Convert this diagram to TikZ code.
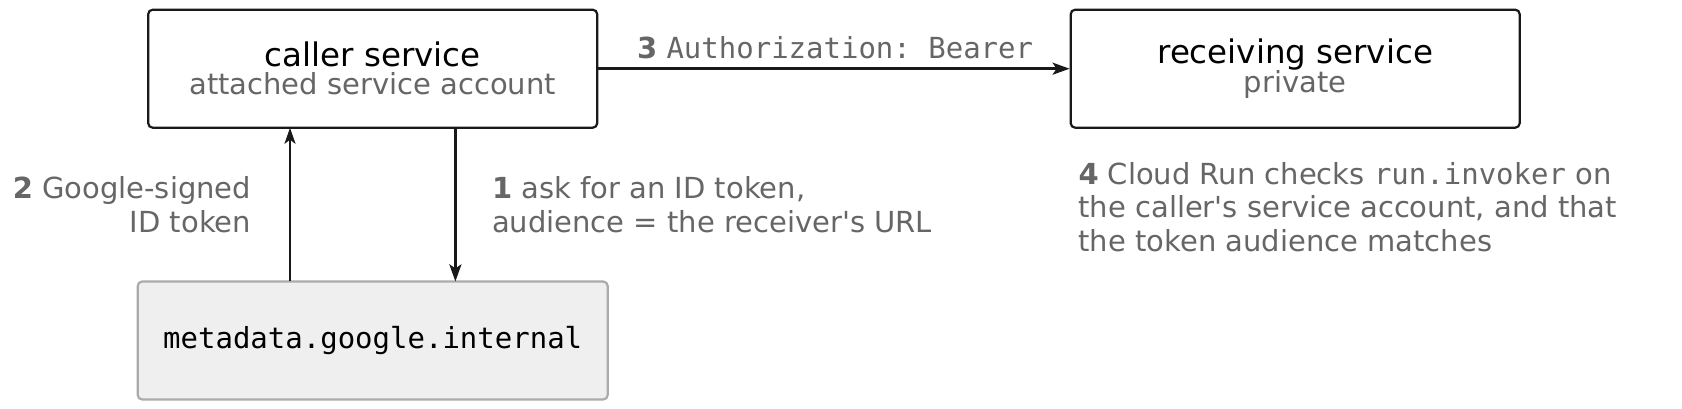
\documentclass[tikz,border=0pt]{standalone}
\usepackage{fontspec}
\setmainfont{DejaVu Sans}
\setmonofont{DejaVu Sans Mono}
\usetikzlibrary{arrows.meta}
\definecolor{labelgray}{HTML}{666666}
\definecolor{boxgray}{HTML}{EFEFEF}
\definecolor{edgegray}{HTML}{ABABAB}
\def\titlefont{\fontsize{32.5}{28}\selectfont}
\def\subfont{\fontsize{29}{28}\selectfont}
\def\labelfont{\fontsize{29}{33.3}\selectfont}

\begin{document}
\begin{tikzpicture}[x=1pt, y=1pt,
    service/.style={draw=black!90, line width=2.2pt, rounded corners=4.5pt,
      minimum width=449pt, minimum height=118pt, align=center, inner sep=0pt, font=\subfont},
    metabox/.style={draw=edgegray, fill=boxgray, line width=2.2pt, rounded corners=4.5pt,
      minimum width=470pt, minimum height=118pt, inner sep=0pt},
    steplabel/.style={text=labelgray, font=\labelfont, inner sep=0pt},
    flow/.style={-{Stealth[length=17pt, width=12pt, inset=4pt]}, line width=2.8pt, black!90}]
		%%%%% START %%%%%
		\useasboundingbox (0, 0) rectangle (1682, -409);
		
		\node[service] (caller) at (372.7, -68.7)
			{{\titlefont caller service}\\{\color{labelgray}attached service account}};
		\node[service] (receiver) at (1295.2, -68.7)
			{{\titlefont receiving service}\\{\color{labelgray}private}};
		\node[metabox] (meta) at (372.7, -340.5) {\subfont\ttfamily metadata.google.internal};
		
		\coordinate (upfoot) at (290, -281.4);
		\coordinate (uphead) at (290, -127.8);
		\coordinate (downfoot) at (455.4, -127.8);
		\coordinate (downhead) at (455.4, -281.4);
		
		\draw[flow, line width=2pt, -{Stealth[length=16pt, width=11pt, inset=4pt]}] (upfoot) -- (uphead);
		\draw[flow] (downfoot) -- (downhead);
		\draw[flow] (caller.east) -- (receiver.west);
		
		\node[steplabel, anchor=base east, align=right] (tokenlabel) at (251.3, -232)
			{\textbf{2} Google-signed\\ID token};
		\node[steplabel, anchor=base west, align=left] (asklabel) at (491.9, -232)
			{\textbf{1} ask for an ID token,\\audience = the receiver\textquotesingle s URL};
		\node[steplabel, anchor=base west] (bearerlabel) at (636.9, -59)
			{\textbf{3} \texttt{Authorization: Bearer}};
		\node[steplabel, anchor=base west, align=left] (checklabel) at (1078.3, -251.3)
			{\textbf{4} Cloud Run checks \texttt{run.invoker} on\\the caller\textquotesingle s service account, and that\\the token audience matches};
		
		%%%%% END %%%%%
\end{tikzpicture}
\end{document}
